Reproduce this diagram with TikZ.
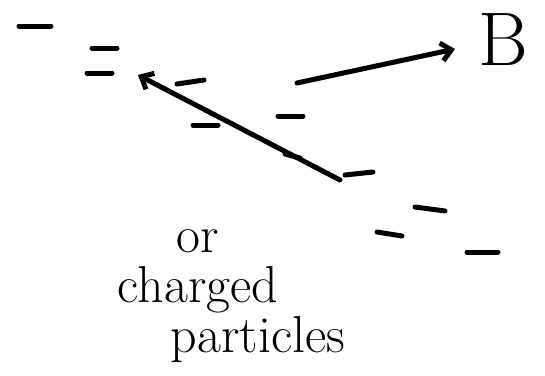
\documentclass[tikz,border=0pt]{standalone}
\usepackage{tikz}
\usetikzlibrary{arrows.meta,positioning}

\begin{document}
\begin{tikzpicture}[
    x=1pt, y=-1pt,
    stroke/.style={line width=5pt, line cap=round, line join=round},
    charge/.style={stroke},
    pen/.style={stroke, -{Straight Barb[length=10pt, width=18pt, line width=5pt]}},
    word/.style={font=\fontsize{52}{52}\selectfont, inner sep=0pt},
]
\useasboundingbox (0,0) rectangle (545,375);
% scattered charges
\draw[charge] (19,26)  -- (51,26);
\draw[charge] (92,48)  -- (117,48);
\draw[charge] (87,73)  -- (112,73);
\draw[charge] (177,84) -- (204,80);
\draw[charge] (193,125) -- (218,125);
\draw[charge] (278,116) -- (303,116);
\draw[charge] (285,154) -- (300,158);
\draw[charge] (345,175) -- (373,172);
\draw[charge] (377,232) -- (402,236);
\draw[charge] (415,207) -- (445,211);
\draw[charge] (467,252) -- (498,252);
% arrows
\coordinate (tail1) at (340,180);
\coordinate (head1) at (138,75);
\coordinate (tail2) at (297,83);
\node[font=\fontsize{76}{76}\selectfont, inner sep=0pt] (field) at (503,40) {B};
\coordinate (head2) at (455,49);
\draw[pen] (tail1) -- (head1);
\draw[pen] (tail2) -- (head2);
% labels
\node[word] (or) at (198,241) {or};
\node[word] (charged) at (198,290) {charged};
\node[word] (particles) at (258,340) {particles};
\end{tikzpicture}
\end{document}
